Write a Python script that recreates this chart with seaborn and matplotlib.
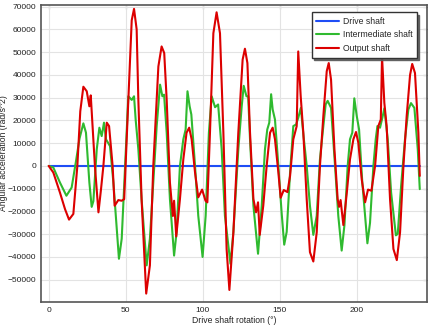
import matplotlib
matplotlib.use("Agg")
import matplotlib.pyplot as plt
import seaborn as sns
import pandas as pd

# ---- data ----
drive_x = [0, 241]
drive_y = [0, 0]

inter_x = [0, 3, 7.3, 11.5, 14.9, 17.7, 20, 22.5, 24.2, 26.4, 27.9, 29, 31.2, 32.9, 34.4, 35.9,
           37.2, 39.8, 42, 45.6, 47.4, 49.6, 51.7, 53.9, 55.4, 56.5, 58.2, 60.3, 63.6, 65.7, 67.9,
           70.1, 72.3, 73.8, 74.9, 76.6, 78.7, 81.4, 83, 85.2, 87.4, 88.9, 90.1, 91.5, 92.6, 95,
           97.1, 99.9, 101.9, 104, 105.8, 108, 110, 112.3, 114.4, 118, 119.9, 123.1, 125.3, 126.6,
           128.4, 129.5, 130.7, 132.9, 135.9, 138.3, 140.4, 141.9, 143.2, 144.4, 145.4, 146.9,
           149.1, 151.2, 152.9, 154.5, 156.7, 158.8, 160.6, 162, 163.7, 165.3, 167.5, 169.6, 171.8,
           174, 176.1, 178.3, 179.8, 181.1, 183.3, 185.9, 188, 190.2, 192, 194.1, 195.6, 197.1,
           198.4, 200, 201.5, 203.6, 205.4, 206.9, 208.6, 210.8, 212.3, 213.4, 215.1, 216.6, 217.9,
           220.1, 222.3, 225.4, 226.6, 228.8, 231.3, 233.5, 235.2, 237.4, 239.6, 240.9]
inter_y = [0, -700, -7300, -13100, -9500, 2000, 12000, 18700, 14600, -7300, -18000, -15500, 7300,
           16800, 13100, 19000, 11700, 8700, -7300, -40800, -32000, 0, 30600, 29000, 30600, 20000,
           7300, -14600, -43700, -32000, -7300, 17500, 35700, 30600, 31300, 14600, -14600, -39400,
           -29200, 0, 11700, 16000, 32800, 26200, 22600, 0, -21900, -40000, -21900, 14600, 30600,
           25800, 27000, 7300, -21900, -43000, -29000, 7300, 26200, 35200, 30600, 30600, 11700,
           -17500, -38600, -17500, 7300, 16000, 19000, 31500, 24800, 20400, 0, -20400, -34600,
           -29000, -2900, 17500, 18200, 21100, 25500, 14000, 0, -17500, -30300, -21900, 2900,
           17500, 27000, 28600, 25500, 0, -21900, -37200, -26000, 0, 11700, 14600, 29700, 21900,
           16000, -7300, -21900, -34000, -25000, 0, 11700, 17500, 16800, 21100, 25300, 11700,
           -11700, -30500, -29900, -8700, 11700, 24800, 27600, 25500, 7300, -10200]

output_x = [0, 3, 7.3, 10.6, 13.2, 16, 18.6, 20.5, 22.5, 24.7, 26.4, 27.3, 30, 32.3, 34, 35.5,
            37.7, 39.2, 41.5, 42.8, 45.2, 47.4, 49, 51.7, 53.9, 55.4, 57.1, 58.2, 60.3, 63.3,
            65.7, 67.9, 71.2, 73.3, 75, 76.6, 78.7, 80.6, 81.4, 82.8, 85.2, 87.4, 89.5, 91.2,
            92.8, 95, 97.1, 99.6, 101.8, 103, 104.7, 106.9, 109, 111.2, 113.4, 115.5, 117.3,
            119.9, 123.1, 125.9, 127.4, 129, 130.7, 132.9, 134.6, 135.9, 137, 139.3, 141.5, 143.7,
            145.4, 146.9, 149.1, 150.6, 152.6, 155, 156.7, 158.8, 161, 162, 163.6, 165.3, 167.5,
            169.6, 171.8, 174, 176.1, 178.3, 180.5, 181.8, 183.3, 185.5, 187.6, 188.5, 189.5,
            191.3, 193.5, 195.6, 197.8, 199.5, 201, 203.2, 205.4, 207.3, 209.5, 211.9, 214, 215.6,
            216.4, 217.9, 219.4, 221.6, 223.8, 226, 228.1, 230.3, 232.4, 234.6, 236, 237.8, 240,
            240.9]
output_y = [0, -2900, -11700, -19000, -23600, -21100, 0, 24000, 34800, 32800, 26200, 31000, 0,
            -20400, -10000, 0, 19000, 17500, 0, -17500, -15000, -15300, -14600, 29000, 64000,
            69000, 60000, 29000, -14600, -56100, -43700, 0, 43700, 52500, 49600, 29000, -7300,
            -22000, -15300, -31000, -14600, 2900, 14600, 16800, 11700, -2900, -13800, -10400,
            -15300, -16000, 14600, 58300, 67500, 58300, 14600, -36500, -54500, -29200, 14600,
            46700, 51500, 45200, 14600, -14600, -20400, -16000, -30300, -17500, 0, 14600, 16800,
            11700, -2900, -14000, -10600, -11500, -4400, 11700, 17500, 50300, 30600, 14600,
            -14600, -37900, -42000, -29200, 0, 21900, 41600, 45200, 37900, 7300, -14600, -18000,
            -15000, -26000, -12000, 2900, 11700, 14900, 10200, -5800, -16000, -10400, -10900, 0,
            17500, 20400, 48000, 27700, 17500, -14600, -36500, -41400, -29200, 0, 21900, 40000,
            44800, 40800, 14600, -4400]

series_names = ["Drive shaft", "Intermediate shaft", "Output shaft"]
series_colors = ["#1f4df5", "#2fba2f", "#dc0000"]
x_ticks = [0, 50, 100, 150, 200]
y_ticks = [-50000, -40000, -30000, -20000, -10000, 0, 10000, 20000, 30000, 40000, 50000, 60000, 70000]

sns.set_style("white")
plt.rcParams["font.family"] = ["Liberation Sans", "DejaVu Sans"]

fig = plt.figure(figsize=(4.38, 3.26), dpi=100)
ax = fig.add_axes([0.0936, 0.0736, 0.8813, 0.911])

frames = [
    pd.DataFrame({"x": drive_x, "y": drive_y}),
    pd.DataFrame({"x": inter_x, "y": inter_y}),
    pd.DataFrame({"x": output_x, "y": output_y}),
]
for df, name, col in zip(frames, series_names, series_colors):
    sns.lineplot(data=df, x="x", y="y", ax=ax, color=col, lw=1.5, label=name,
                 sort=False, estimator=None)

ax.set_xlim(-5, 245.6)
ax.set_ylim(-59800, 70700)
ax.set_xticks(x_ticks)
ax.set_yticks(y_ticks)
ax.grid(True, color="#e3e3e3", lw=0.8)
ax.set_axisbelow(True)
for s in ax.spines.values():
    s.set_color("#555555")
    s.set_linewidth(1.2)

ax.tick_params(axis="both", direction="out", length=2.5, width=0.8, color="#333333",
               labelsize=6.0, pad=1.0, labelcolor="#222222")

secx = ax.secondary_xaxis("top")
secx.set_xticks(x_ticks)
secx.tick_params(direction="in", length=3, width=0.8, labeltop=False, color="#333333")
secx.spines["top"].set_visible(False)
secy = ax.secondary_yaxis("right")
secy.set_yticks(y_ticks)
secy.tick_params(direction="in", length=3, width=0.8, labelright=False, color="#333333")
secy.spines["right"].set_visible(False)

ax.set_xlabel("Drive shaft rotation (°)", fontsize=6.2, color="#222222")
ax.xaxis.set_label_coords(0.5, -0.046)
ax.set_ylabel("Angular acceleration (rad/s^2)", fontsize=6.2, color="#222222")
ax.yaxis.set_label_coords(-0.085, 0.5)

leg = ax.legend(loc="upper right", bbox_to_anchor=(0.975, 0.975), borderaxespad=0,
                fontsize=6.2, frameon=True, fancybox=False, handlelength=2.6,
                handletextpad=0.5, labelspacing=0.5, borderpad=0.55,
                shadow={"ox": 1.5, "oy": -1.5, "color": "0.35", "alpha": 0.9})
leg.get_frame().set_edgecolor("#333333")
leg.get_frame().set_linewidth(1.0)
leg.get_frame().set_alpha(1)

fig.savefig("out.png", dpi=100)
